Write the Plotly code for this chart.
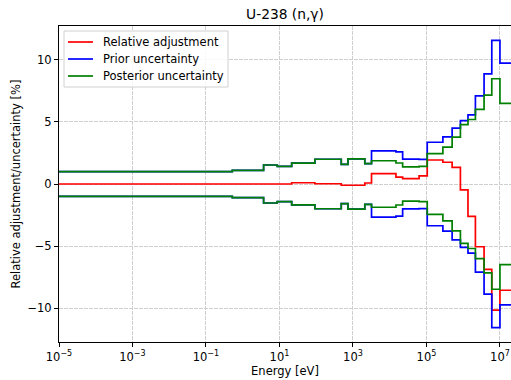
import math
import plotly.graph_objects as go

# Group boundaries (eV)
energy_edges = [1e-5, 0.52, 3.7, 8.7, 21.5, 92, 480, 730, 2.1e3, 3.2e3, 1.48e4,
                2.25e4, 6.3e4, 1.05e5, 2.8e5, 5.0e5, 8.4e5, 1.35e6, 2.15e6,
                3.7e6, 6.0e6, 1.0e7, 2.0e7]

# Values per group (%)
relative_adjustment = [0.0, 0.0, 0.0, 0.0, 0.1, 0.02, -0.1, -0.1, 0.08, 0.83,
                       0.56, 0.43, 0.66, 1.93, 1.75, 1.34, -0.48, -2.6, -5.05,
                       -6.87, -10.15, -8.55]
prior_uncertainty = [0.99, 1.10, 1.53, 1.42, 1.68, 1.99, 1.58, 2.02, 1.64, 2.66,
                     2.58, 2.0, 1.98, 3.36, 3.8, 4.5, 5.1, 5.57, 7.1, 8.86,
                     11.56, 9.73]
posterior_uncertainty = [0.99, 1.10, 1.53, 1.42, 1.68, 1.99, 1.58, 2.02, 1.64,
                         1.87, 1.69, 1.38, 1.42, 2.45, 2.96, 3.77, 4.78, 5.19,
                         6.0, 7.16, 8.47, 6.49]

series_names = ["Relative adjustment", "Prior uncertainty", "Posterior uncertainty"]
series_colors = ["#ff0000", "#0000ff", "#008000"]

x_tick_vals = [1e-5, 1e-3, 1e-1, 1e1, 1e3, 1e5, 1e7]
x_tick_text = ["10<sup>\u22125</sup>", "10<sup>\u22123</sup>", "10<sup>\u22121</sup>",
               "10<sup>1</sup>", "10<sup>3</sup>", "10<sup>5</sup>", "10<sup>7</sup>"]
y_tick_vals = [-10, -5, 0, 5, 10]
y_tick_text = ["\u221210", "\u22125", "0", "5", "10"]


def stepped(vals):
    return list(vals) + [vals[-1]]


FONT = "DejaVu Sans"
LW = 1.7
W, H = 511, 380
L, R, T, B = 59, 0, 26, 38
PW, PH = W - L - R, H - T - B


def px_x(x):
    return (x - L) / PW


def px_y(y):
    return 1 - (y - T) / PH


fig = go.Figure()
fig.add_trace(go.Scatter(x=energy_edges, y=stepped(relative_adjustment), mode="lines",
                         line=dict(color=series_colors[0], width=LW, shape="hv"),
                         name=series_names[0], showlegend=False))
fig.add_trace(go.Scatter(x=energy_edges, y=stepped(prior_uncertainty), mode="lines",
                         line=dict(color=series_colors[1], width=LW, shape="hv"),
                         name=series_names[1], showlegend=False))
fig.add_trace(go.Scatter(x=energy_edges, y=stepped([-v for v in prior_uncertainty]), mode="lines",
                         line=dict(color=series_colors[1], width=LW, shape="hv"),
                         name=series_names[1], showlegend=False))
fig.add_trace(go.Scatter(x=energy_edges, y=stepped(posterior_uncertainty), mode="lines",
                         line=dict(color=series_colors[2], width=LW, shape="hv"),
                         name=series_names[2], showlegend=False))
fig.add_trace(go.Scatter(x=energy_edges, y=stepped([-v for v in posterior_uncertainty]), mode="lines",
                         line=dict(color=series_colors[2], width=LW, shape="hv"),
                         name=series_names[2], showlegend=False))

# Legend drawn as a framed box (matplotlib style)
shapes = [dict(type="rect", xref="paper", yref="paper",
               x0=px_x(64), x1=px_x(228), y0=px_y(87), y1=px_y(31),
               line=dict(color="#d0d0d0", width=1), fillcolor="rgba(255,255,255,0.85)",
               layer="above")]
annotations = []
for i, (nm, col) in enumerate(zip(series_names, series_colors)):
    yy = 42 + 17 * i
    shapes.append(dict(type="line", xref="paper", yref="paper",
                       x0=px_x(68), x1=px_x(93), y0=px_y(yy), y1=px_y(yy),
                       line=dict(color=col, width=LW), layer="above"))
    annotations.append(dict(text=nm, xref="paper", yref="paper", x=px_x(101), y=px_y(yy),
                            xanchor="left", yanchor="middle", showarrow=False,
                            font=dict(size=11.5, family=FONT, color="black")))

ymax = max(max(prior_uncertainty), max(abs(v) for v in relative_adjustment)) * 1.1

GRID = "#cfcfcf"
fig.update_layout(
    width=W, height=H,
    margin=dict(l=L, r=R, t=T, b=B),
    paper_bgcolor="white", plot_bgcolor="white",
    font=dict(family=FONT, size=11.5, color="black"),
    title=dict(text="U-238 (n,\u03b3)", font=dict(size=13.8, family=FONT, color="black"),
               x=(L + W) / 2 / W, xanchor="center", xref="container",
               y=1 - 14 / H, yanchor="middle", yref="container"),
    showlegend=False,
    shapes=shapes,
    annotations=annotations,
    xaxis=dict(type="log", range=[-5, math.log10(2e7)], tickmode="array",
               tickvals=x_tick_vals, ticktext=x_tick_text,
               showline=True, linecolor="black", linewidth=1, mirror=True,
               ticks="outside", ticklen=4, tickwidth=1, tickcolor="black",
               showgrid=True, gridcolor=GRID, gridwidth=0.9, griddash="3.5px,1.5px",
               zeroline=False,
               title=dict(text="Energy [eV]", font=dict(size=11.5, family=FONT), standoff=3)),
    yaxis=dict(range=[-ymax, ymax], tickmode="array",
               tickvals=y_tick_vals, ticktext=y_tick_text,
               showline=True, linecolor="black", linewidth=1, mirror=False,
               ticks="outside", ticklen=4, tickwidth=1, tickcolor="black",
               showgrid=True, gridcolor=GRID, gridwidth=0.9, griddash="3.5px,1.5px",
               zeroline=False,
               title=dict(text="Relative adjustment/uncertainty [%]",
                          font=dict(size=11.5, family=FONT), standoff=4)),
)

fig.write_html("out.html")
